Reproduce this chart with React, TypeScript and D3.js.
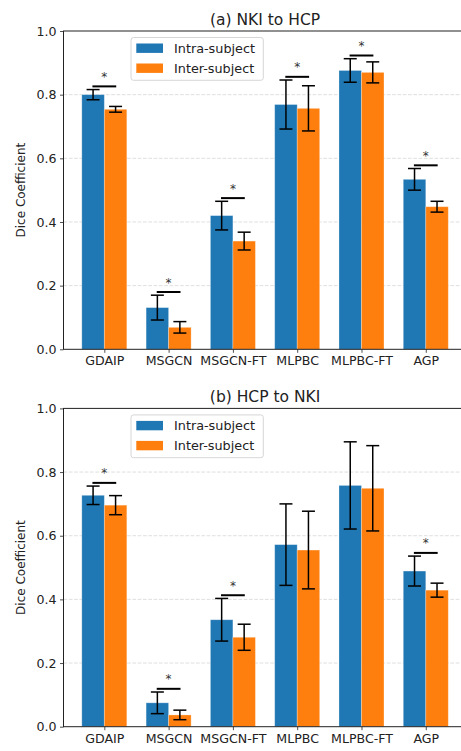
import React, { useEffect, useRef } from "react";
import * as d3 from "d3";

const categories = ["GDAIP", "MSGCN", "MSGCN-FT", "MLPBC", "MLPBC-FT", "AGP"];
const seriesNames = ["Intra-subject", "Inter-subject"];
const seriesColors = ["#1f77b4", "#ff7f0e"];
const yTicks = [0, 0.2, 0.4, 0.6, 0.8, 1.0];

// (a) NKI to HCP
const nkiIntraMean = [0.8, 0.131, 0.42, 0.769, 0.876, 0.534];
const nkiIntraErr = [0.016, 0.039, 0.045, 0.077, 0.037, 0.034];
const nkiInterMean = [0.754, 0.069, 0.34, 0.757, 0.87, 0.448];
const nkiInterErr = [0.009, 0.018, 0.028, 0.071, 0.033, 0.017];
const nkiSig = [true, true, true, true, true, true];

// (b) HCP to NKI
const hcpIntraMean = [0.727, 0.075, 0.336, 0.572, 0.758, 0.489];
const hcpIntraErr = [0.029, 0.034, 0.067, 0.128, 0.137, 0.047];
const hcpInterMean = [0.696, 0.037, 0.281, 0.555, 0.749, 0.429];
const hcpInterErr = [0.03, 0.015, 0.041, 0.122, 0.134, 0.022];
const hcpSig = [true, true, true, false, false, true];

const FONT = "DejaVu Sans, sans-serif";

type Panel = {
  title: string;
  top: number;
  bottom: number;
  means: number[][];
  errs: number[][];
  sig: boolean[];
};

const panels: Panel[] = [
  { title: "(a) NKI to HCP", top: 31, bottom: 349.3, means: [nkiIntraMean, nkiInterMean], errs: [nkiIntraErr, nkiInterErr], sig: nkiSig },
  { title: "(b) HCP to NKI", top: 408.4, bottom: 726.7, means: [hcpIntraMean, hcpInterMean], errs: [hcpIntraErr, hcpInterErr], sig: hcpSig },
];

const W = 461;
const H = 751;
const barW = 0.35;

export default function App() {
  const ref = useRef<SVGSVGElement>(null);

  useEffect(() => {
    const svg = d3.select(ref.current);
    svg.selectAll("*").remove();

    const x = d3.scaleLinear().domain([-0.635, 5.635]).range([63.5, 466.6]);
    const px = x(1) - x(0);

    panels.forEach((p) => {
      const y = d3.scaleLinear().domain([0, 1]).range([p.bottom, p.top]);
      const g = svg.append("g");

      // grid
      g.selectAll("line.grid")
        .data(yTicks.slice(1, -1))
        .join("line")
        .attr("x1", x.range()[0])
        .attr("x2", x.range()[1])
        .attr("y1", (d) => y(d))
        .attr("y2", (d) => y(d))
        .attr("stroke", "#b0b0b0")
        .attr("stroke-opacity", 0.5)
        .attr("stroke-width", 0.8)
        .attr("stroke-dasharray", "3.7,1.6");

      // bars
      p.means.forEach((vals, s) => {
        const off = s === 0 ? -barW : 0;
        g.selectAll(`rect.s${s}`)
          .data(vals)
          .join("rect")
          .attr("x", (_, i) => x(i + off))
          .attr("width", barW * px)
          .attr("y", (d) => y(d))
          .attr("height", (d) => y(0) - y(d))
          .attr("fill", seriesColors[s])
          .attr("stroke", "#fff")
          .attr("stroke-opacity", 0.35)
          .attr("stroke-width", 0.8);
      });

      // error bars
      p.means.forEach((vals, s) => {
        const off = s === 0 ? -barW / 2 : barW / 2;
        const eb = g.selectAll(`g.e${s}`)
          .data(vals)
          .join("g")
          .attr("transform", (_, i) => `translate(${x(i + off)},0)`);
        eb.append("line")
          .attr("y1", (d, i) => y(d - p.errs[s][i]))
          .attr("y2", (d, i) => y(d + p.errs[s][i]))
          .attr("stroke", "#000")
          .attr("stroke-width", 1.5);
        [-1, 1].forEach((sign) => {
          eb.append("line")
            .attr("x1", -6.5)
            .attr("x2", 6.5)
            .attr("y1", (d, i) => y(d + sign * p.errs[s][i]))
            .attr("y2", (d, i) => y(d + sign * p.errs[s][i]))
            .attr("stroke", "#000")
            .attr("stroke-width", 1.5);
        });
      });

      // significance marks
      const sigIdx = categories.map((_, i) => i).filter((i) => p.sig[i]);
      const sigY = (i: number) =>
        Math.max(p.means[0][i] + p.errs[0][i], p.means[1][i] + p.errs[1][i]) + 0.01;
      g.selectAll("line.sig")
        .data(sigIdx)
        .join("line")
        .attr("x1", (i) => x(i - 0.185))
        .attr("x2", (i) => x(i + 0.185))
        .attr("y1", (i) => y(sigY(i)))
        .attr("y2", (i) => y(sigY(i)))
        .attr("stroke", "#000")
        .attr("stroke-width", 2);
      g.selectAll("text.star")
        .data(sigIdx)
        .join("text")
        .attr("x", (i) => x(i))
        .attr("y", (i) => y(sigY(i)) - 5.5)
        .attr("text-anchor", "middle")
        .attr("font-family", FONT)
        .attr("font-size", 12)
        .attr("fill", "#333")
        .text("*");

      // axes
      const yAxis = d3.axisLeft(y).tickValues(yTicks).tickFormat(d3.format(".1f")).tickSize(3.5).tickPadding(3.5);
      const yG = g.append("g").attr("transform", `translate(${x.range()[0]},0)`).call(yAxis);
      const xAxis = d3.axisBottom(x).tickValues(d3.range(categories.length)).tickFormat((d) => categories[+d]).tickSize(3.5).tickPadding(3.5);
      const xG = g.append("g").attr("transform", `translate(0,${p.bottom})`).call(xAxis);
      [yG, xG].forEach((a) => {
        a.select(".domain").remove();
        a.selectAll("text").attr("font-family", FONT).attr("font-size", 12.6).attr("fill", "#222");
        a.selectAll(".tick line").attr("stroke", "#222").attr("stroke-width", 0.8);
      });

      // frame
      g.append("rect")
        .attr("x", x.range()[0])
        .attr("y", p.top)
        .attr("width", x.range()[1] - x.range()[0])
        .attr("height", p.bottom - p.top)
        .attr("fill", "none")
        .attr("stroke", "#222")
        .attr("stroke-width", 1);

      // y label
      g.append("text")
        .attr("transform", `translate(25,${(p.top + p.bottom) / 2}) rotate(-90)`)
        .attr("text-anchor", "middle")
        .attr("font-family", FONT)
        .attr("font-size", 12)
        .attr("fill", "#222")
        .text("Dice Coefficient");

      // title
      g.append("text")
        .attr("x", (x.range()[0] + x.range()[1]) / 2)
        .attr("y", p.top - 6.5)
        .attr("text-anchor", "middle")
        .attr("font-family", FONT)
        .attr("font-size", 15.5)
        .attr("fill", "#222")
        .text(p.title);

      // legend
      const lg = g.append("g").attr("transform", `translate(131,${p.top + 6.5})`);
      lg.append("rect")
        .attr("width", 132.3)
        .attr("height", 42.8)
        .attr("rx", 2.5)
        .attr("fill", "#fff")
        .attr("fill-opacity", 0.8)
        .attr("stroke", "#ccc")
        .attr("stroke-width", 0.8);
      seriesNames.forEach((name, s) => {
        lg.append("rect")
          .attr("x", 5.3)
          .attr("y", 6 + s * 20)
          .attr("width", 26.7)
          .attr("height", 9.4)
          .attr("fill", seriesColors[s]);
        lg.append("text")
          .attr("x", 43)
          .attr("y", 10.9 + s * 20)
          .attr("dominant-baseline", "central")
          .attr("font-family", FONT)
          .attr("font-size", 12.8)
          .attr("fill", "#222")
          .text(name);
      });
    });
  }, []);

  return (
    <svg
      ref={ref}
      width={W}
      height={H}
      style={{ position: "absolute", left: 0, top: 0, background: "#fff" }}
    />
  );
}
